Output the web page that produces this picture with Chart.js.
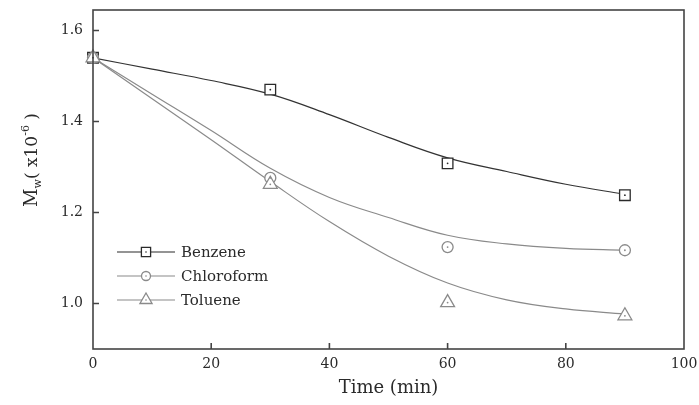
<!DOCTYPE html>
<html>
<head>
<meta charset="utf-8">
<script src="https://cdn.jsdelivr.net/npm/chart.js@4.4.1/dist/chart.umd.min.js"></script>
<style>
  html, body { margin: 0; padding: 0; background: #fff; }
</style>
</head>
<body>
<canvas id="mainChart" width="699" height="405"></canvas>
<script>
// measured points
const sampleTimes = [0, 30, 60, 90];
const benzene = [1.54, 1.47, 1.308, 1.238];
const chloroform = [1.54, 1.276, 1.124, 1.117];
const toluene = [1.54, 1.262, 1.002, 0.973];

// fitted curves
const fitTimes = [0, 10, 20, 30, 40, 50, 60, 70, 80, 90];
const benzeneFit = [1.54, 1.515, 1.49, 1.46, 1.415, 1.365, 1.32, 1.29, 1.262, 1.24];
const chloroformFit = [1.54, 1.46, 1.38, 1.297, 1.233, 1.189, 1.15, 1.131, 1.121, 1.117];
const tolueneFit = [1.54, 1.45, 1.36, 1.268, 1.18, 1.104, 1.045, 1.008, 0.988, 0.977];

const seriesNames = ['Benzene', 'Chloroform', 'Toluene'];
const xTicks = [0, 20, 40, 60, 80, 100];
const yTicks = [1.0, 1.2, 1.4, 1.6];

const SERIF = "'DejaVu Serif', 'Liberation Serif', serif";
const DARK = '#2a2a2a';
const GREY = '#8a8a8a';

const pts = (xs, ys) => xs.map((x, i) => ({ x: x, y: ys[i] }));

function markerSet(label, ys, style, radius, color) {
  return {
    label: label, data: pts(sampleTimes, ys), showLine: false,
    pointStyle: style, pointRadius: radius, pointHoverRadius: radius,
    pointBorderWidth: 1.3, pointBorderColor: color, pointBackgroundColor: '#fff',
    borderColor: color, clip: false, order: 0, isMarker: true
  };
}
function fitSet(ys, color, width) {
  return {
    data: pts(fitTimes, ys), showLine: true, borderColor: color, borderWidth: width,
    pointRadius: 0, tension: 0.4, fill: false, order: 1
  };
}

const markerStyles = [
  { style: 'rect', radius: 7.5, color: DARK },
  { style: 'circle', radius: 5.5, color: GREY },
  { style: 'triangle', radius: 8, color: GREY }
];

// frame + inward tick marks
const frameAndTicks = {
  id: 'frameAndTicks',
  afterDatasetsDraw(chart) {
    const { ctx, chartArea: a, scales: { x, y } } = chart;
    ctx.save();
    ctx.strokeStyle = '#444';
    ctx.lineWidth = 1.6;
    ctx.strokeRect(a.left, a.top, a.right - a.left, a.bottom - a.top);
    ctx.beginPath();
    xTicks.slice(1, -1).forEach(v => {
      const px = x.getPixelForValue(v);
      ctx.moveTo(px, a.bottom);
      ctx.lineTo(px, a.bottom - 6);
    });
    yTicks.forEach(v => {
      const py = y.getPixelForValue(v);
      ctx.moveTo(a.left, py);
      ctx.lineTo(a.left + 6, py);
    });
    ctx.stroke();

    // small dot in the middle of each marker
    chart.data.datasets.forEach((ds, i) => {
      if (!ds.isMarker) return;
      ctx.fillStyle = ds.pointBorderColor;
      chart.getDatasetMeta(i).data.forEach(el => {
        ctx.beginPath();
        ctx.arc(el.x, el.y, 0.9, 0, Math.PI * 2);
        ctx.fill();
      });
    });
    ctx.restore();
  }
};

// y axis title: M_w( x10^-6 )
const yTitle = {
  id: 'yTitle',
  afterDraw(chart) {
    const { ctx } = chart;
    const parts = [
      { t: 'M', size: 18, dy: 0 },
      { t: 'w', size: 11, dy: 4 },
      { t: '( x10', size: 17, dy: 0 },
      { t: '-6', size: 11, dy: -8 },
      { t: ' )', size: 17, dy: 0 }
    ];
    ctx.save();
    ctx.fillStyle = DARK;
    ctx.textBaseline = 'alphabetic';
    let total = 0;
    parts.forEach(p => { ctx.font = p.size + 'px ' + SERIF; p.w = ctx.measureText(p.t).width; total += p.w; });
    ctx.translate(37, 160);
    ctx.rotate(-Math.PI / 2);
    let cx = -total / 2;
    parts.forEach(p => {
      ctx.font = p.size + 'px ' + SERIF;
      ctx.fillText(p.t, cx, p.dy);
      cx += p.w;
    });
    ctx.restore();
  }
};

// legend in the lower left of the plot
const innerLegend = {
  id: 'innerLegend',
  afterDraw(chart) {
    const { ctx } = chart;
    const rowY = [252, 276, 300];
    ctx.save();
    seriesNames.forEach((name, i) => {
      const m = markerStyles[i];
      const yy = rowY[i];
      ctx.strokeStyle = m.color;
      ctx.lineWidth = 1.2;
      ctx.beginPath();
      ctx.moveTo(117, yy);
      ctx.lineTo(175, yy);
      ctx.stroke();
      ctx.fillStyle = '#fff';
      ctx.lineWidth = 1.3;
      Chart.helpers.drawPoint(ctx, { pointStyle: m.style, radius: m.style === 'triangle' ? 7 : m.radius - 1, rotation: 0, borderWidth: 1.3 }, 146, yy);
      ctx.fillStyle = m.color;
      ctx.beginPath();
      ctx.arc(146, yy, 0.8, 0, Math.PI * 2);
      ctx.fill();
      ctx.fillStyle = DARK;
      ctx.font = '15px ' + SERIF;
      ctx.textBaseline = 'middle';
      ctx.fillText(name, 181, yy + 1);
    });
    ctx.restore();
  }
};

const ctx = document.getElementById('mainChart');
new Chart(ctx, {
  type: 'scatter',
  data: {
    datasets: [
      markerSet(seriesNames[2], toluene, markerStyles[2].style, markerStyles[2].radius, markerStyles[2].color),
      markerSet(seriesNames[1], chloroform, markerStyles[1].style, markerStyles[1].radius, markerStyles[1].color),
      markerSet(seriesNames[0], benzene, markerStyles[0].style, markerStyles[0].radius, markerStyles[0].color),
      fitSet(benzeneFit, '#333', 1.2),
      fitSet(chloroformFit, GREY, 1.2),
      fitSet(tolueneFit, GREY, 1.2)
    ]
  },
  options: {
    responsive: false,
    animation: false,
    layout: { padding: { top: 10, right: 15, left: 0, bottom: 0 } },
    plugins: { legend: { display: false }, tooltip: { enabled: false } },
    scales: {
      x: {
        type: 'linear', min: 0, max: 100,
        afterFit: s => { s.height = 56; s.paddingLeft = 0; s.paddingRight = 0; },
        afterBuildTicks: s => { s.ticks = xTicks.map(v => ({ value: v })); },
        grid: { display: false, drawTicks: false }, border: { display: false },
        ticks: { color: DARK, font: { family: SERIF, size: 14 }, padding: 7, maxRotation: 0, autoSkip: false },
        title: { display: true, text: 'Time (min)', color: DARK, font: { family: SERIF, size: 18 }, padding: { top: 0, bottom: 6 } }
      },
      y: {
        type: 'linear', min: 0.9, max: 1.645,
        afterFit: s => { s.width = 93; s.paddingTop = 0; s.paddingBottom = 0; },
        afterBuildTicks: s => { s.ticks = yTicks.map(v => ({ value: v })); },
        grid: { display: false, drawTicks: false }, border: { display: false },
        ticks: { color: DARK, font: { family: SERIF, size: 14 }, padding: 10, callback: v => v.toFixed(1) }
      }
    }
  },
  plugins: [frameAndTicks, yTitle, innerLegend]
});
</script>
</body>
</html>
